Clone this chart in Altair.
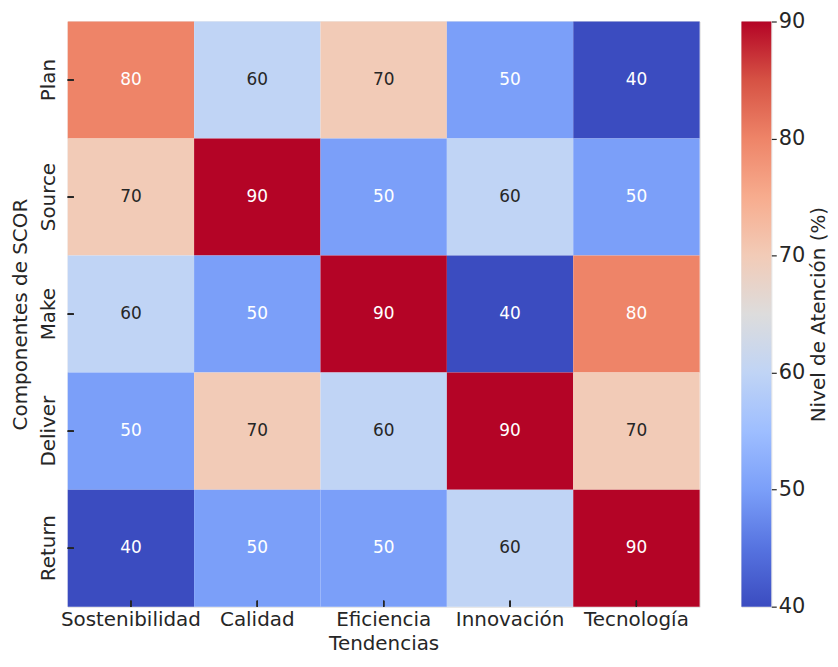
import altair as alt
import pandas as pd

rows = ["Plan", "Source", "Make", "Deliver", "Return"]
cols = ["Sostenibilidad", "Calidad", "Eficiencia", "Innovación", "Tecnología"]
plan = [80, 60, 70, 50, 40]
source = [70, 90, 50, 60, 50]
make = [60, 50, 90, 40, 80]
deliver = [50, 70, 60, 90, 70]
ret = [40, 50, 50, 60, 90]
values_by_row = [plan, source, make, deliver, ret]
cbar_ticks = [40, 50, 60, 70, 80, 90]

records = []
for r, vals in zip(rows, values_by_row):
    for c, v in zip(cols, vals):
        records.append({"Componente": r, "Tendencia": c, "value": v})
df = pd.DataFrame(records)

# coolwarm stops
cw_domain = [40, 45, 50, 55, 60, 65, 70, 75, 80, 85, 90]
cw_range = ["#3b4cc0", "#5673e0", "#7b9ff9", "#9ebeff", "#c0d4f5", "#dddcdc",
            "#f2cbb7", "#f7ac8e", "#ee8468", "#d65244", "#b40426"]

FONT = "DejaVu Sans"
TXT = "#262626"
W, H = 635, 588

x_enc = alt.X("Tendencia:N", sort=cols, title="Tendencias",
              axis=alt.Axis(labelAngle=0, ticks=False, domain=False, labelFontSize=20,
                            titleFontSize=20, labelPadding=3, titlePadding=4,
                            labelColor=TXT, titleColor=TXT, titleFontWeight="normal"),
              scale=alt.Scale(paddingInner=0, paddingOuter=0))
y_enc = alt.Y("Componente:N", sort=rows, title="Componentes de SCOR",
              axis=alt.Axis(labelAngle=270, ticks=False, domain=False, labelFontSize=20,
                            titleFontSize=20, labelPadding=19, titlePadding=8,
                            labelBaseline="middle", labelAlign="center",
                            labelColor=TXT, titleColor=TXT, titleFontWeight="normal"),
              scale=alt.Scale(paddingInner=0, paddingOuter=0))

base = alt.Chart(df)

rects = base.mark_rect(stroke=None).encode(
    x=x_enc, y=y_enc,
    color=alt.Color("value:Q",
                    scale=alt.Scale(domain=cw_domain, range=cw_range, interpolate="rgb"),
                    legend=None),
)

texts = base.mark_text(fontSize=17, font=FONT).encode(
    x=alt.X("Tendencia:N", sort=cols),
    y=alt.Y("Componente:N", sort=rows),
    text=alt.Text("value:Q"),
    color=alt.condition(alt.FieldOneOfPredicate(field="value", oneOf=[60, 70]),
                        alt.value(TXT), alt.value("white")),
)

xticks = base.mark_rule(color=TXT, strokeWidth=1.2).encode(
    x=alt.X("Tendencia:N", sort=cols),
    y=alt.value(H - 6), y2=alt.value(H),
)
yticks = base.mark_rule(color=TXT, strokeWidth=1.2).encode(
    y=alt.Y("Componente:N", sort=rows),
    x=alt.value(0), x2=alt.value(6),
)

heat = alt.layer(rects, texts, xticks, yticks).properties(width=W, height=H)

# colorbar
cb_df = pd.DataFrame({"lo": [min(cw_domain)], "hi": [max(cw_domain)]})
stops = [alt.GradientStop(color=c, offset=(d - cw_domain[0]) / (cw_domain[-1] - cw_domain[0]))
         for d, c in zip(cw_domain, cw_range)]
grad = alt.LinearGradient(gradient="linear", stops=stops, x1=0, x2=0, y1=1, y2=0)

cbar = alt.Chart(cb_df).mark_rect(fill=grad, stroke=None).encode(
    x=alt.value(0), x2=alt.value(30),
    y=alt.Y("lo:Q", scale=alt.Scale(domain=[40, 90], nice=False, zero=False),
            title="Nivel de Atención (%)",
            axis=alt.Axis(orient="right", values=cbar_ticks, grid=False, domain=False,
                          tickSize=5, tickColor=TXT, tickWidth=1.2, labelFontSize=21,
                          labelColor=TXT, labelPadding=2, titleFontSize=20, titleColor=TXT,
                          titleFontWeight="normal", titleAngle=270, titleBaseline="top",
                          titlePadding=4, labelBaseline="middle")),
    y2="hi:Q",
).properties(width=30, height=H)

chart = alt.hconcat(heat, cbar, spacing=40).properties(
    padding={"left": 2, "top": 0, "right": 0, "bottom": 0},
).configure_view(stroke=None).configure(font=FONT)

chart.save("out.html", embed_options={"renderer": "svg", "actions": False})
